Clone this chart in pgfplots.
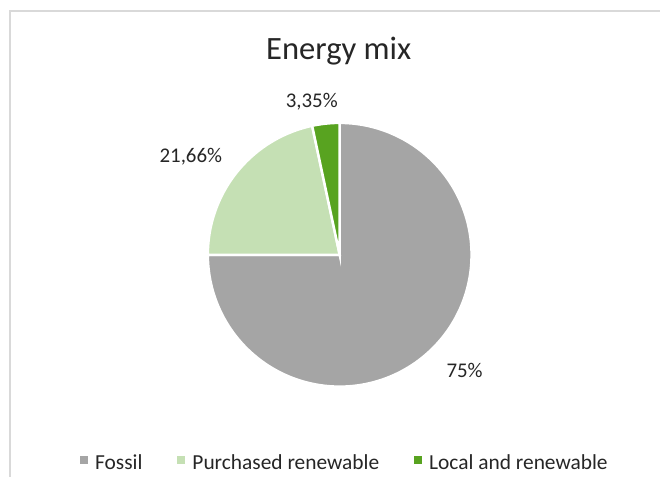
\documentclass[border=0pt]{standalone}
\usepackage{pgfplots}
\pgfplotsset{compat=1.18}
\usepackage{fontspec}
\setmainfont{Carlito}
\definecolor{fossil}{HTML}{A5A5A5}
\definecolor{purch}{HTML}{C5E0B4}
\definecolor{localg}{HTML}{58A320}
\definecolor{framec}{HTML}{D9D9D9}
\definecolor{txt}{HTML}{262626}
\begin{document}
\begin{tikzpicture}
% shares (percent)
\pgfmathsetmacro{\vA}{75}
\pgfmathsetmacro{\vB}{21.66}
\pgfmathsetmacro{\vC}{3.35}
\pgfmathsetmacro{\tot}{\vA+\vB+\vC}
\pgfmathsetmacro{\aA}{90}
\pgfmathsetmacro{\aB}{\aA-360*(\vA/\tot)}
\pgfmathsetmacro{\aC}{\aB-360*(\vB/\tot)}
\pgfmathsetmacro{\aD}{\aC-360*(\vC/\tot)}
\begin{axis}[
  width=661bp, height=477bp, scale only axis,
  xmin=0, xmax=661, ymin=0, ymax=477,
  hide axis, clip=false,
  legend columns=3,
  legend image code/.code={\fill[#1,draw=none] (0bp,-1bp) rectangle (8bp,7bp);},
  legend style={draw=none, fill=none, text=txt,
    font=\fontsize{21.5}{25}\selectfont,
    at={(axis cs:77,14)}, anchor=base west,
    nodes={inner xsep=0pt, inner ysep=1pt},
    /tikz/every odd column/.append style={column sep=7bp},
    /tikz/every even column/.append style={column sep=35bp}},
]
\path (axis cs:0,0) rectangle (axis cs:661,477);
\draw[framec, line width=1.2bp] (axis cs:10,0) -- (axis cs:10,466) -- (axis cs:661,466);
\addplot[draw=white, line width=2.5bp, fill=fossil, domain=\aB:\aA, samples=150, variable=\t]
  ({340+132*cos(\t)},{222+132*sin(\t)}) -- (axis cs:340,222) -- cycle;
\addlegendentry{Fossil}
\addplot[draw=white, line width=2.5bp, fill=purch, domain=\aC:\aB, samples=60, variable=\t]
  ({340+132*cos(\t)},{222+132*sin(\t)}) -- (axis cs:340,222) -- cycle;
\addlegendentry{Purchased renewable}
\addplot[draw=white, line width=2.5bp, fill=localg, domain=\aD:\aC, samples=12, variable=\t]
  ({340+132*cos(\t)},{222+132*sin(\t)}) -- (axis cs:340,222) -- cycle;
\addlegendentry{Local and renewable}
\node[anchor=base, text=txt, font=\fontsize{32.7}{38}\selectfont] at (axis cs:339,417) {Energy mix};
\node[anchor=base, text=txt, font=\fontsize{21}{25}\selectfont] at (axis cs:312,369) {3,35\%};
\node[anchor=base, text=txt, font=\fontsize{21}{25}\selectfont] at (axis cs:191,314) {21,66\%};
\node[anchor=base, text=txt, font=\fontsize{21}{25}\selectfont] at (axis cs:465,99) {75\%};
\end{axis}
\end{tikzpicture}
\end{document}
